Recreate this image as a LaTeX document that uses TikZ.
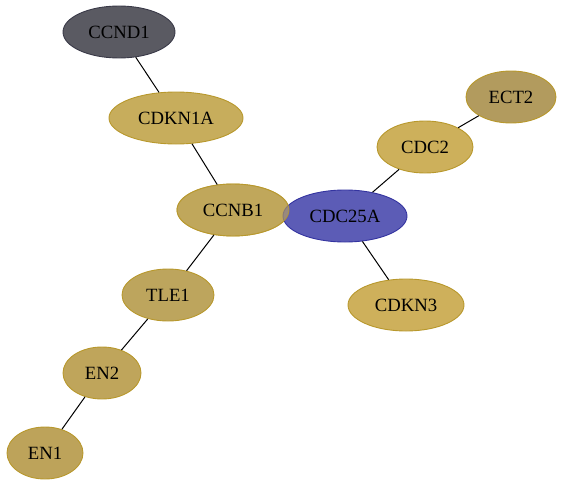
\documentclass[tikz,border=0pt]{standalone}
\usepackage{fontspec}
\setmainfont{Liberation Serif}
\usetikzlibrary{shapes.geometric}
\definecolor{grayfill}{HTML}{5A5A62}
\definecolor{grayline}{HTML}{3A3A48}
\definecolor{bluefill}{HTML}{5C5CB6}
\definecolor{blueline}{HTML}{3434A0}
\definecolor{goldline}{HTML}{B8982C}
\definecolor{cdknA}{HTML}{C7AD5C}
\definecolor{ccnb}{HTML}{C0A75B}
\definecolor{cdctwo}{HTML}{CDB05B}
\definecolor{ectt}{HTML}{B29B5E}
\definecolor{cdkntr}{HTML}{CEB05B}
\definecolor{tleo}{HTML}{BDA55D}
\definecolor{ent}{HTML}{BFA55B}
\definecolor{eno}{HTML}{BDA35A}
\tikzset{
  gene/.style={ellipse, draw=goldline, line width=0.9pt, inner sep=0pt,
    font=\fontsize{18.7}{20}\selectfont, text=black},
  link/.style={draw=black, line width=1pt}
}
\begin{document}
\begin{tikzpicture}[x=1pt,y=-1pt]
\useasboundingbox (0,0) rectangle (564,487);
\node[gene, fill=grayfill, draw=grayline, minimum width=112, minimum height=52] (ccnd1) at (119,32) {CCND1};
\node[gene, fill=cdknA, minimum width=134, minimum height=52] (cdkn1a) at (176,118) {CDKN1A};
\node[gene, fill=ccnb, minimum width=112, minimum height=52] (ccnbbase) at (233,210) {};
\node[gene, fill=bluefill, draw=blueline, minimum width=124, minimum height=52] (cdc25a) at (345,216) {CDC25A};
\node[gene, fill=ccnb, minimum width=112, minimum height=52, fill opacity=0.6, draw opacity=0.8, text opacity=1] (ccnb1) at (233,210) {CCNB1};
\node[gene, fill=cdctwo, minimum width=96, minimum height=52] (cdc2) at (425,147) {CDC2};
\node[gene, fill=ectt, minimum width=90, minimum height=52] (ect2) at (511,97) {ECT2};
\node[gene, fill=cdkntr, minimum width=116, minimum height=52] (cdkn3) at (406,305) {CDKN3};
\node[gene, fill=tleo, minimum width=92, minimum height=52] (tle1) at (168,295) {TLE1};
\node[gene, fill=ent, minimum width=78, minimum height=52] (en2) at (102,373) {EN2};
\node[gene, fill=eno, minimum width=76, minimum height=52] (en1) at (45,453) {EN1};
\draw[link] (ccnd1) -- (cdkn1a);
\draw[link] (cdkn1a) -- (ccnb1);
\draw[link] (ccnb1) -- (tle1);
\draw[link] (tle1) -- (en2);
\draw[link] (en2) -- (en1);
\draw[link] (cdc25a) -- (cdc2);
\draw[link] (cdc2) -- (ect2);
\draw[link] (cdc25a) -- (cdkn3);
\end{tikzpicture}
\end{document}
